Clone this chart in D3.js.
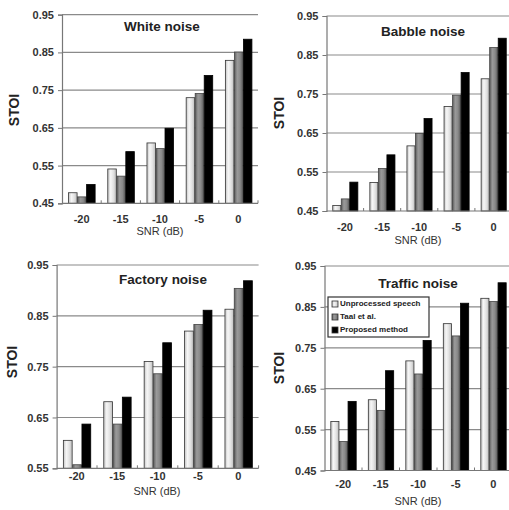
<!DOCTYPE html>
<html>
<head>
<meta charset="utf-8">
<script src="https://cdn.jsdelivr.net/npm/d3@7"></script>
<style>
  body { margin: 0; background: #fff; }
  svg { display: block; font-family: "Liberation Sans", Arial, sans-serif; }
</style>
</head>
<body>
<svg id="chart" width="509" height="510"></svg>
<script>
// data
const snr = ["-20", "-15", "-10", "-5", "0"]
const seriesNames = ["Unprocessed speech", "Taal et al.", "Proposed method"]

const whiteUnproc = [0.478, 0.541, 0.610, 0.730, 0.829]
const whiteTaal = [0.467, 0.522, 0.595, 0.741, 0.851]
const whiteProposed = [0.500, 0.587, 0.649, 0.789, 0.885]

const babbleUnproc = [0.464, 0.523, 0.617, 0.718, 0.789]
const babbleTaal = [0.481, 0.559, 0.649, 0.747, 0.869]
const babbleProposed = [0.524, 0.594, 0.687, 0.805, 0.893]

const factoryUnproc = [0.605, 0.681, 0.760, 0.820, 0.863]
const factoryTaal = [0.557, 0.637, 0.736, 0.833, 0.904]
const factoryProposed = [0.637, 0.690, 0.797, 0.861, 0.919]

const trafficUnproc = [0.570, 0.623, 0.718, 0.809, 0.871]
const trafficTaal = [0.521, 0.597, 0.686, 0.779, 0.863]
const trafficProposed = [0.619, 0.694, 0.768, 0.859, 0.909]

const ticks45 = [0.45, 0.55, 0.65, 0.75, 0.85, 0.95]
const ticks55 = [0.55, 0.65, 0.75, 0.85, 0.95]

const svg = d3.select("#chart")

// gradients for the two grey series
const defs = svg.append("defs")
function addGrad(id, stops) {
    const g = defs.append("linearGradient").attr("id", id)
        .attr("x1", "0%").attr("x2", "100%").attr("y1", "0%").attr("y2", "0%")
    stops.forEach((c, i) => {
        g.append("stop").attr("offset", (i / (stops.length - 1) * 100) + "%").attr("stop-color", c)
    })
}
addGrad("gLight", ["#c4c4c4", "#f6f6f6", "#e2e2e2", "#bdbdbd"])
addGrad("gGray", ["#5e5e5e", "#9a9a9a", "#8a8a8a", "#5a5a5a"])
const fills = ["url(#gLight)", "url(#gGray)", "#000"]
const strokes = ["#333", "#444", "#000"]

function drawPanel(p) {
    const g = svg.append("g")

    const x = d3.scaleBand().domain(snr).range([p.left, p.right])
        .paddingInner(0.31).paddingOuter(0.155)
    const xs = d3.scaleBand().domain(d3.range(3)).range([0, x.bandwidth()])
    const y = d3.scaleLinear().domain([p.ticks[0], 0.95]).range([p.bottom, p.top])

    // grid lines
    g.selectAll(".grid").data(p.ticks.slice(1)).enter().append("line")
        .attr("x1", p.left).attr("x2", p.right)
        .attr("y1", d => y(d)).attr("y2", d => y(d))
        .attr("stroke", "#8a8a8a").attr("stroke-width", 1.2)

    // bars
    const rows = snr.map((s, i) => ({ key: s, values: p.series.map(a => a[i]) }))
    const grp = g.selectAll(".grp").data(rows).enter().append("g")
        .attr("transform", d => `translate(${x(d.key)},0)`)
    grp.selectAll("rect").data(d => d.values).enter().append("rect")
        .attr("x", (d, i) => xs(i) + 0.5)
        .attr("width", xs.bandwidth() - 0.5)
        .attr("y", d => y(d))
        .attr("height", d => y(p.ticks[0]) - y(d))
        .attr("fill", (d, i) => fills[i])
        .attr("stroke", (d, i) => strokes[i])
        .attr("stroke-width", 0.8)

    // y axis
    const yAxis = d3.axisLeft(y).tickValues(p.ticks).tickFormat(d3.format(".2f"))
        .tickSize(4).tickPadding(4)
    const ya = g.append("g").attr("transform", `translate(${p.left},0)`).call(yAxis)
    ya.select(".domain").attr("stroke", "#777").attr("stroke-width", 1.2)
    ya.selectAll(".tick line").attr("stroke", "#777")
    ya.selectAll("text").attr("font-size", 11).attr("font-weight", "bold").attr("fill", "#333")

    // x axis: line, inside tick marks between groups, labels
    g.append("line").attr("x1", p.left).attr("x2", p.right)
        .attr("y1", p.bottom).attr("y2", p.bottom)
        .attr("stroke", "#777").attr("stroke-width", 1.2)
    g.selectAll(".xt").data(snr).enter().append("line")
        .attr("x1", d => x(d) + x.bandwidth() + x.step() * 0.155)
        .attr("x2", d => x(d) + x.bandwidth() + x.step() * 0.155)
        .attr("y1", p.bottom).attr("y2", p.bottom - 3)
        .attr("stroke", "#777")
    g.selectAll(".xl").data(snr).enter().append("text")
        .attr("x", d => x(d) + x.bandwidth() / 2)
        .attr("y", p.catY)
        .attr("text-anchor", "middle").attr("dominant-baseline", "middle")
        .attr("font-size", 11).attr("font-weight", "bold").attr("fill", "#333")
        .text(d => d)

    g.append("text").attr("x", p.snrX).attr("y", p.snrY)
        .attr("text-anchor", "middle").attr("dominant-baseline", "middle")
        .attr("font-size", 11).attr("fill", "#333")
        .text("SNR (dB)")

    g.append("text")
        .attr("transform", `translate(${p.stoiX},${p.stoiY}) rotate(-90)`)
        .attr("text-anchor", "middle").attr("dominant-baseline", "middle")
        .attr("font-size", 14).attr("font-weight", "bold").attr("fill", "#222")
        .text("STOI")

    g.append("text").attr("x", p.titleX).attr("y", p.titleY)
        .attr("text-anchor", "middle").attr("dominant-baseline", "middle")
        .attr("font-size", 13.5).attr("font-weight", "bold").attr("fill", "#222")
        .text(p.title)
    return g
}

drawPanel({ title: "White noise", series: [whiteUnproc, whiteTaal, whiteProposed], ticks: ticks45,
    left: 62, right: 258, top: 14.7, bottom: 203.3,
    catY: 220, snrX: 160, snrY: 232.5, stoiX: 15, stoiY: 110, titleX: 162, titleY: 27 })

drawPanel({ title: "Babble noise", series: [babbleUnproc, babbleTaal, babbleProposed], ticks: ticks45,
    left: 326.5, right: 512, top: 16, bottom: 211,
    catY: 227.7, snrX: 418, snrY: 241, stoiX: 280, stoiY: 113, titleX: 423, titleY: 32 })

drawPanel({ title: "Factory noise", series: [factoryUnproc, factoryTaal, factoryProposed], ticks: ticks55,
    left: 56.6, right: 258.6, top: 265, bottom: 468.3,
    catY: 476.7, snrX: 157, snrY: 492.5, stoiX: 13, stoiY: 362, titleX: 163, titleY: 280 })

const traffic = drawPanel({ title: "Traffic noise", series: [trafficUnproc, trafficTaal, trafficProposed], ticks: ticks45,
    left: 324.5, right: 512, top: 266, bottom: 470.5,
    catY: 485, snrX: 418, snrY: 502, stoiX: 280, stoiY: 368, titleX: 418, titleY: 284 })

// legend inside traffic panel
const leg = traffic.append("g").attr("transform", "translate(328,297)")
leg.append("rect").attr("width", 101).attr("height", 40)
    .attr("fill", "#fff").attr("stroke", "#333").attr("stroke-width", 1.2)
seriesNames.forEach((name, i) => {
    const row = leg.append("g").attr("transform", `translate(4,${7 + i * 13})`)
    row.append("rect").attr("x", 0).attr("y", -3).attr("width", 6).attr("height", 6)
        .attr("fill", fills[i]).attr("stroke", "#333").attr("stroke-width", 0.8)
    row.append("text").attr("x", 8).attr("y", 0).attr("dominant-baseline", "middle")
        .attr("font-size", 8).attr("font-weight", "bold").attr("fill", "#222")
        .text(name)
})
</script>
</body>
</html>
